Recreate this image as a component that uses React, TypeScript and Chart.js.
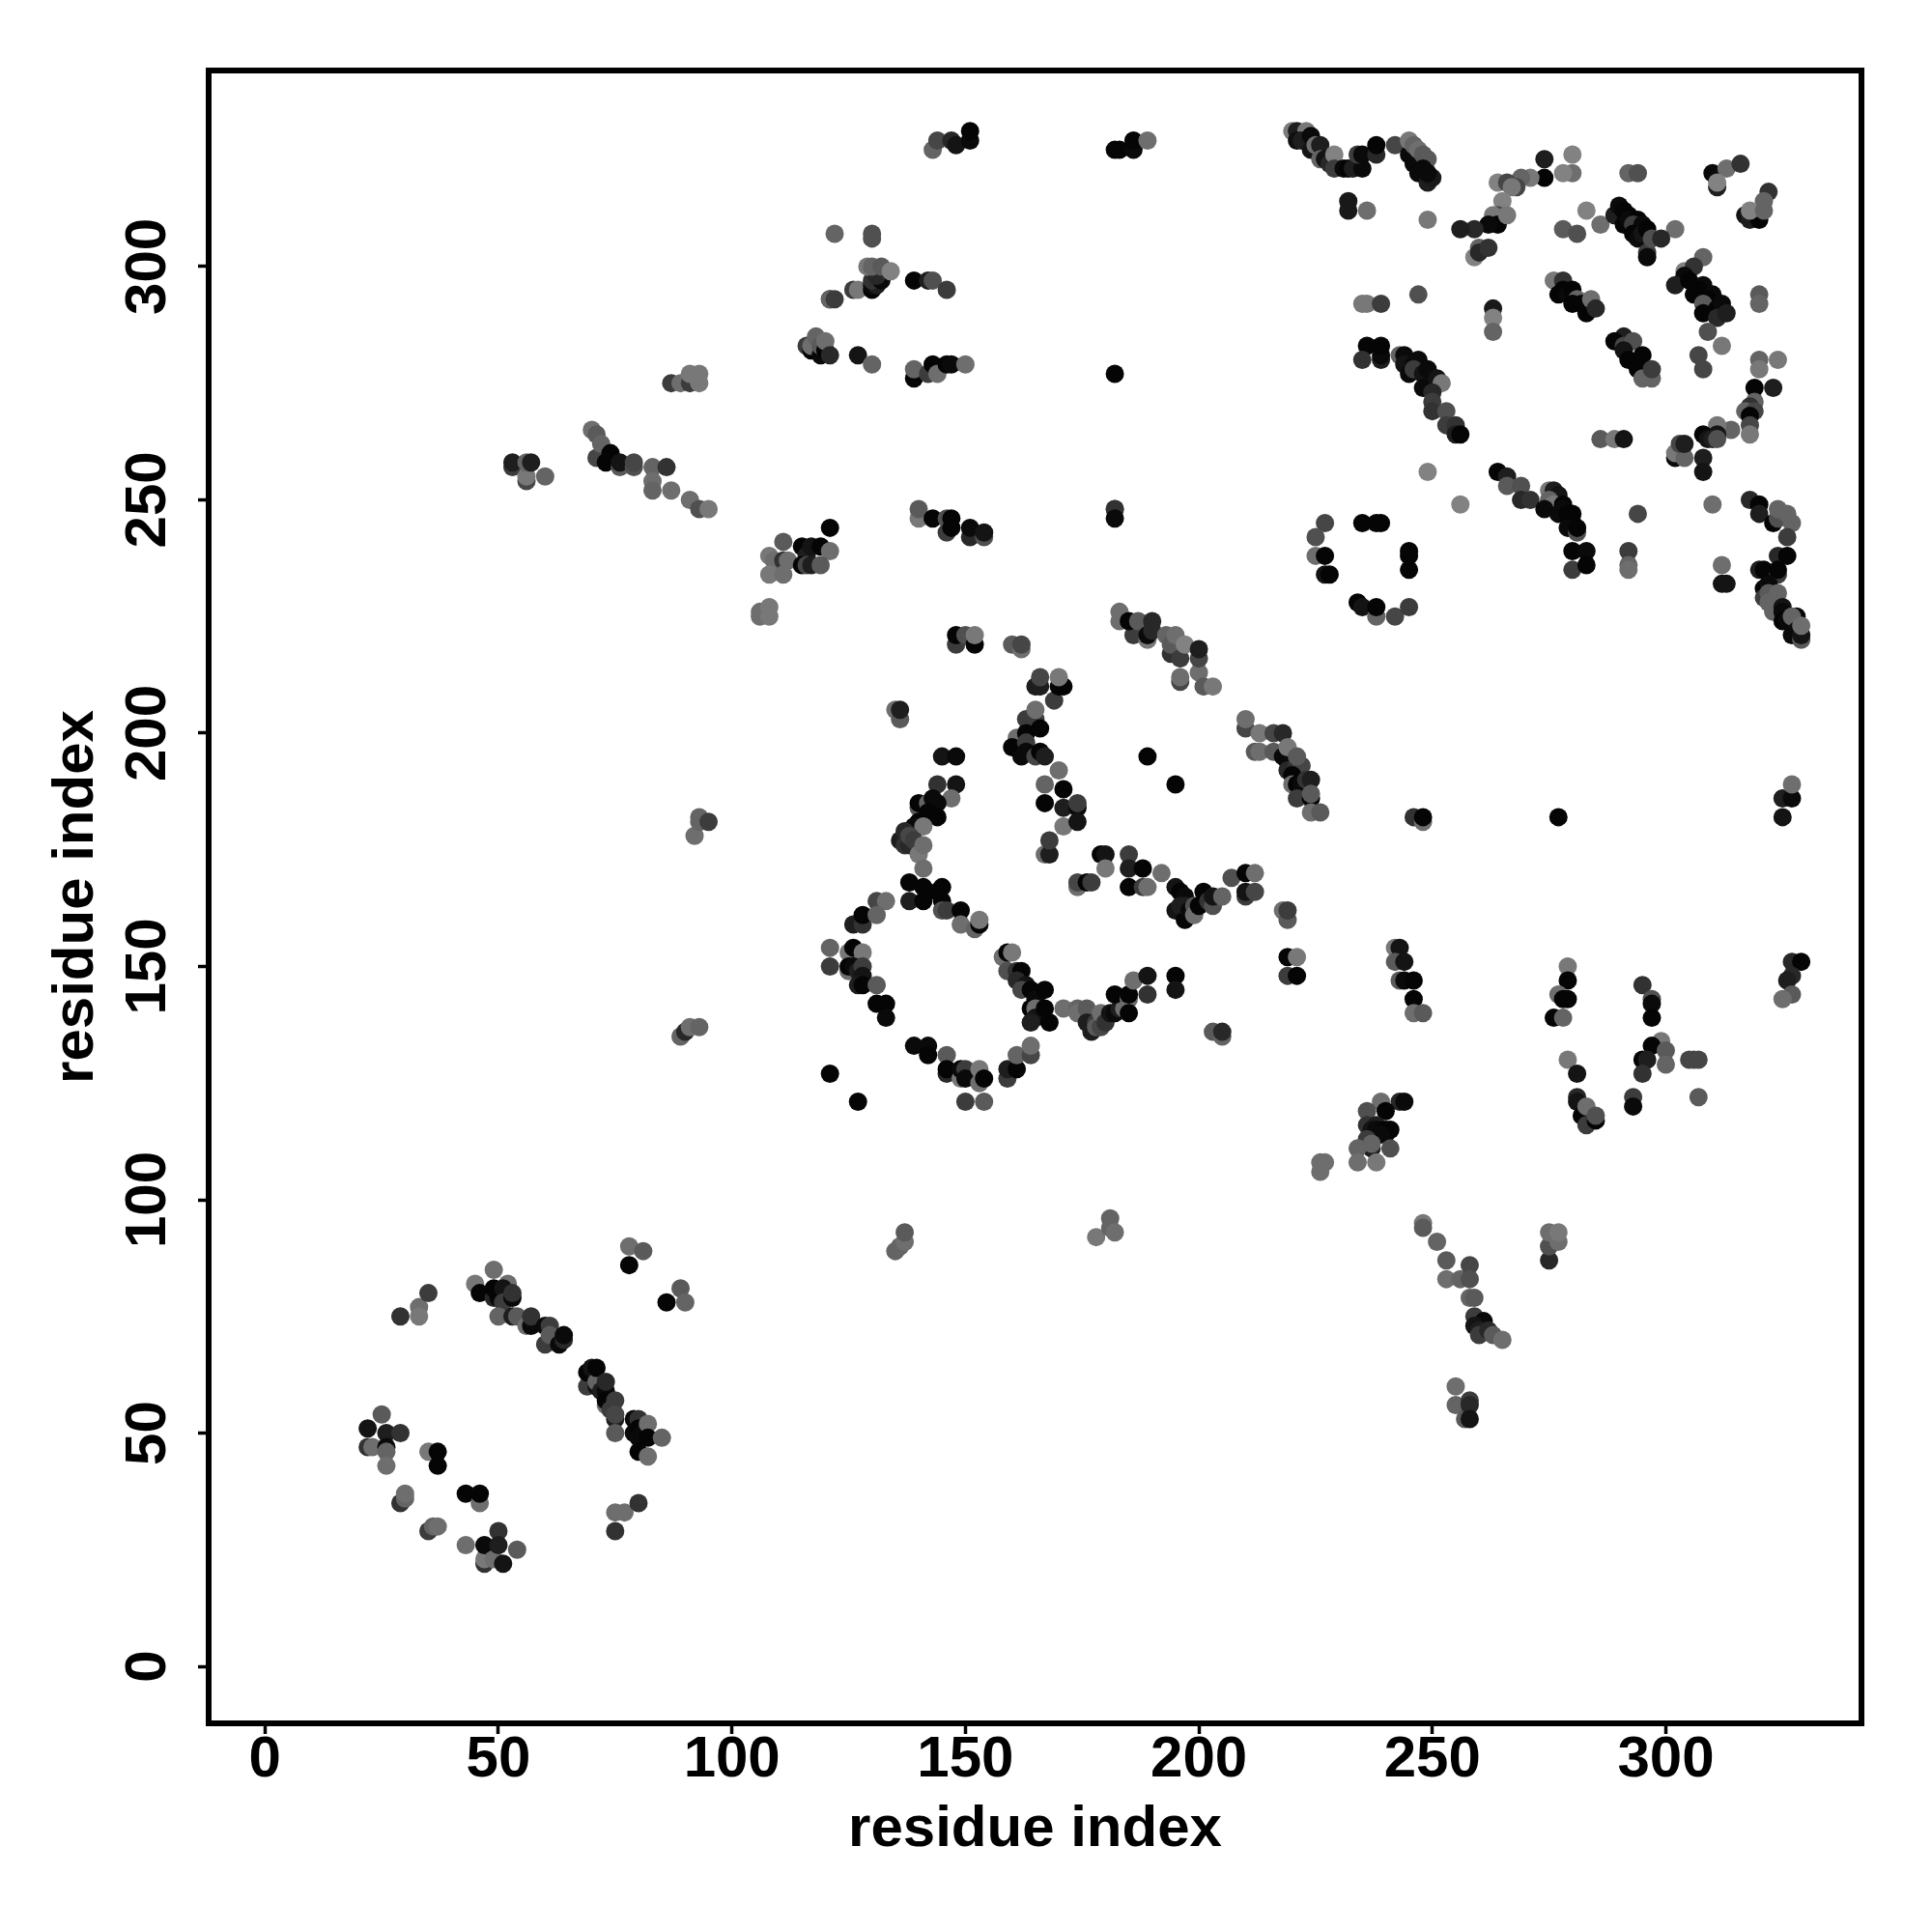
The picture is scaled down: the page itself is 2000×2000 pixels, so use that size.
import React, { useEffect, useRef } from "react";
import { Chart, registerables } from "chart.js";

Chart.register(...registerables);

type Contact = [number, number, number];

const axisTitle = "residue index";
const tickValues = [0, 50, 100, 150, 200, 250, 300];

// [residue i, residue j, grey level of the contact]
const topLeftArc: Contact[] = [
  [220,329,125],[221,329,30],[223,329,120],[221,327,15],[222,327,30],[224,328,10],[224,325,20],[225,326,110],[226,326,30],[226,323,100],[227,323,20],[228,322,40],[229,324,130],[229,321,60],[231,321,10],[232,321,5],[233,321,30],[235,321,10],[234,324,60],[235,324,10],[238,324,40],[238,326,5],[242,326,70],[245,324,10],[246,322,10],[245,327,120],[246,326,100],[247,325,110],[248,324,90],[249,323,90],[248,321,10],[247,320,10],[249,318,30],[250,319,25],[249,320,10],[232,314,25],[232,312,25],[236,312,110],[249,310,120],
];
const topMiddleArc: Contact[] = [
  [274,323,30],[274,319,5],[280,324,130],[280,320,110],[278,320,130],[271,319,120],[269,319,100],[268,317,70],[264,318,130],[266,318,70],[267,317,120],[265,314,130],[264,311,70],[263,311,120],[264,309,5],[262,309,10],[266,311,120],[259,308,40],[256,308,30],[259,302,130],[260,304,100],[260,303,40],[262,304,50],
];
const topRightBand: Contact[] = [
  [292,320,100],[294,320,80],[283,312,130],[278,308,90],[281,307,80],[286,309,110],[289,311,30],[290,313,10],[291,312,5],[292,311,5],[291,309,5],[292,310,10],[294,310,5],[293,309,60],[295,309,10],[293,307,5],[294,306,10],[295,307,20],[296,308,5],[296,303,60],[296,302,10],[297,306,80],[302,308,110],[299,306,40],
  [310,320,10],[313,321,110],[316,322,50],[311,317,30],[311,318,130],[322,316,50],[321,314,100],[317,311,20],[318,310,30],[320,310,5],[318,312,130],[321,312,100],
];
const upperRightBands: Contact[] = [
  [276,297,120],[278,297,50],[277,294,5],[278,295,5],[279,294,10],[280,295,5],[281,293,100],[280,292,5],[282,292,5],[283,290,5],[284,291,5],[284,293,110],[285,291,40],
  [291,285,30],[289,284,5],[291,283,70],[293,284,80],[291,282,20],[292,280,5],[295,281,5],[294,278,5],[295,276,100],[297,276,100],[297,278,60],
  [308,302,100],[304,299,130],[306,300,50],[304,298,10],[302,296,30],[305,297,5],[308,296,10],[307,295,5],[306,294,5],[310,294,10],[309,293,5],[308,292,90],[308,290,5],[311,291,5],[312,292,10],[311,289,40],[313,290,30],[309,286,80],[312,283,120],[320,294,90],[320,292,100],
  [263,291,25],[263,289,130],[263,286,100],[247,294,80],[235,292,120],[236,292,120],[239,292,60],
  [236,283,5],[235,280,50],[239,280,30],[239,281,10],[239,283,5],[243,281,100],[244,281,10],[244,279,20],[246,279,10],[247,280,10],[245,277,10],[246,278,60],[248,277,20],[249,278,10],[248,274,10],[250,275,10],[251,276,20],[252,275,120],[250,273,40],[250,271,60],[250,269,50],[253,269,80],[253,266,60],[255,266,50],[255,264,30],[256,264,5],
  [307,281,70],[308,278,70],[320,280,100],[320,278,120],[324,280,120],[319,274,5],[323,274,30],[319,271,100],[318,270,50],[317,269,100],[319,269,70],[318,268,5],[318,266,70],[318,264,120],[314,265,100],[311,266,120],[311,264,20],[308,264,5],[309,263,20],[310,263,30],[311,263,80],[302,259,10],[302,260,120],[304,259,100],[303,262,70],[304,262,30],[308,259,30],[308,256,20],[286,263,90],[289,263,120],[291,263,20],[249,256,130],[256,249,130],[310,249,110],
];
const rightMiddleBands: Contact[] = [
  [264,256,5],[266,255,30],[266,253,90],[269,253,80],[269,250,40],[271,250,50],[275,252,120],[276,252,30],[277,251,20],[275,250,100],[276,249,120],[274,248,10],[278,249,5],[278,248,10],[277,247,10],[279,247,5],[280,247,5],[280,245,5],[279,244,10],[281,243,80],[281,244,5],[280,239,5],[283,239,10],[280,235,60],[283,236,5],[294,247,70],[292,239,60],[292,236,100],[292,235,110],
  [318,250,40],[320,249,5],[320,247,30],[323,245,5],[324,246,80],[324,248,100],[326,247,100],[327,245,100],[326,242,60],[324,238,40],[326,238,5],[312,236,110],[312,232,20],[313,232,20],[320,235,30],[321,235,5],[324,234,60],[324,235,5],[321,231,5],[322,232,10],[321,229,60],[322,230,90],[322,228,100],[324,230,100],[323,226,100],[325,227,20],[325,226,10],[325,224,5],[326,224,10],[328,225,5],[327,225,100],[328,222,20],[327,221,10],[329,220,90],[329,221,20],[329,223,110],
  [227,245,70],[225,242,80],[235,245,5],[238,245,5],[239,245,5],[225,238,110],[227,238,5],[227,234,20],[228,234,5],[245,239,5],[245,238,5],[245,235,5],[234,228,5],[235,227,20],[238,225,100],[238,227,5],[242,225,70],[245,227,60],
];
const centerUpperBands: Contact[] = [
  [183,226,110],[183,224,110],[186,221,60],[185,224,5],[187,224,90],[189,220,120],[189,221,10],[190,222,40],[190,224,40],[193,221,100],[194,217,50],[194,219,90],[195,221,110],[196,211,70],[196,212,110],[196,216,60],[197,219,130],[200,213,110],[200,216,70],[200,218,30],[201,210,90],[203,210,120],
  [148,219,60],[148,221,5],[150,221,80],[152,219,5],[152,221,120],[160,219,90],[162,218,110],[162,219,70],
  [165,210,30],[166,210,30],[166,212,70],[169,207,60],[170,210,5],[171,210,5],[170,212,120],
  [135,205,110],[136,203,90],[136,205,30],
  [163,203,60],[165,203,60],[165,205,110],[161,199,110],[163,200,5],[166,201,5],[160,197,5],[163,198,60],[163,196,10],[162,195,10],[165,195,70],[166,196,5],[167,195,30],
  [170,192,110],[167,189,100],[171,188,5],[167,185,5],[171,184,30],[174,184,10],[174,185,60],[171,180,120],[174,181,20],[167,174,110],[168,174,30],[168,177,60],
  [145,195,20],[148,195,10],[144,189,50],[148,189,20],[147,186,110],[140,184,90],[140,185,5],[142,185,100],[143,186,10],[144,185,10],[142,183,5],[144,182,5],[140,181,5],[139,180,10],[141,180,120],[136,177,30],[137,176,50],[137,179,40],[138,176,40],[138,178,70],[139,177,60],[140,174,120],[141,176,110],[141,171,110],
  [189,195,5],[195,189,5],
  [210,201,70],[210,203,110],[213,200,120],[216,200,70],[218,200,40],[212,196,90],[213,196,110],[216,196,90],[218,195,10],[219,194,10],[219,197,120],[219,192,40],[221,193,50],[222,193,70],[221,195,90],[220,191,5],[220,189,110],[221,189,5],[222,189,10],[223,190,50],[224,190,30],[221,186,60],[224,186,5],[224,187,90],[224,183,110],[226,183,90],
];
const centerLoop: Contact[] = [
  [138,164,30],[138,168,5],[141,164,5],[141,167,5],[144,166,5],[145,164,5],[145,167,5],[145,162,80],[146,162,60],[149,162,5],[149,159,110],[152,158,100],[153,159,5],[153,160,120],
  [131,164,70],[133,164,110],[126,159,30],[128,159,50],[128,161,5],[131,161,100],
  [121,154,100],[121,150,60],[125,153,120],[126,154,5],[128,153,120],[125,149,110],[125,150,5],[126,150,10],[127,149,30],[128,150,60],[128,148,20],[127,146,30],[128,146,5],[131,146,90],[131,142,5],[133,142,5],[133,139,10],
  [139,133,10],[142,133,10],[142,131,5],[146,131,90],[121,127,5],[127,121,5],[146,127,40],[146,128,5],[149,126,120],[149,128,10],[150,128,60],[150,126,10],[153,125,110],[153,128,120],[154,126,5],[150,121,60],[154,121,90],
  [159,126,60],[159,128,30],[161,128,5],[161,131,100],[164,131,70],[164,133,110],
  [158,152,110],[159,153,5],[160,153,120],[159,149,80],[161,149,50],[162,149,5],[161,147,40],[163,146,20],[162,145,70],[164,145,5],[165,143,10],[167,145,5],[164,141,5],[165,141,110],[165,139,20],[167,141,5],[164,138,30],[168,138,5],
  [171,141,110],[174,141,100],[174,140,110],[176,141,90],[176,138,30],[177,136,30],[178,138,60],[178,137,90],[179,137,70],[179,140,110],[180,138,50],[181,140,20],[182,140,10],[183,141,30],[184,141,110],[182,144,5],[185,143,110],[185,144,5],[185,140,5],[186,147,110],[189,148,20],[189,144,50],[195,148,5],[195,145,20],[203,136,90],[205,135,100],[205,136,40],
];
const centerRightBands: Contact[] = [
  [179,174,5],[180,174,20],[185,174,60],[180,171,120],[185,171,30],[188,171,5],[192,170,110],[174,167,110],[174,168,70],[176,168,5],[177,168,60],[185,167,5],[188,167,60],[189,167,110],
  [195,167,20],[196,166,5],[197,165,10],[195,162,20],[196,163,30],[197,160,5],[197,163,30],[198,162,10],[199,163,80],[199,161,110],[200,163,5],[201,166,5],[202,164,50],[203,163,80],[203,165,20],[205,165,100],[207,169,80],[210,170,5],[212,170,110],[210,165,60],[210,166,20],[212,166,70],
  [218,162,110],[219,160,90],[219,162,60],[219,152,5],[221,152,120],[219,148,60],[221,148,5],
];
const lowerLeftLoop: Contact[] = [
  [29,75,50],[33,77,110],[33,75,120],[35,80,60],[49,85,110],[45,82,120],[46,80,5],[52,82,110],[49,79,40],[50,79,10],[50,80,5],[49,81,5],[51,81,20],[51,78,60],[53,79,10],[53,80,50],
  [50,75,100],[53,75,30],[54,75,90],[56,73,110],[57,73,10],[57,75,50],[60,73,10],[61,73,60],[60,69,60],[61,71,90],[63,69,10],[64,70,40],[64,71,10],
  [69,60,60],[69,63,5],[70,64,20],[71,60,20],[71,61,100],[71,64,5],[72,59,30],[73,59,10],[73,61,40],[73,56,110],[73,57,5],[74,55,60],[75,57,60],[75,53,30],[75,54,70],[75,50,90],
  [79,53,10],[80,53,50],[79,50,10],[80,51,5],[80,49,10],[81,50,10],[82,52,110],[82,49,5],[85,49,100],[80,46,5],[82,45,110],
  [25,54,90],[22,51,20],[26,50,30],[29,50,50],[22,47,50],[23,47,110],[26,47,10],[26,46,100],[26,43,110],[35,46,120],[37,46,5],[37,43,5],[29,35,50],[30,36,100],[30,37,110],[43,37,5],[46,35,110],[46,37,5],[35,29,60],[36,30,100],[37,30,110],
  [43,26,110],[47,22,50],[47,23,120],[47,26,10],[49,23,110],[50,29,50],[50,26,30],[54,25,90],[51,22,20],
  [78,90,110],[81,89,90],[78,86,5],[89,81,90],[90,78,100],[86,78,5],[75,33,110],[77,33,110],[80,35,50],[75,29,50],
];
const upperLeftGroups: Contact[] = [
  [122,307,100],[130,306,80],[130,307,80],[126,295,60],[127,295,120],[130,295,5],[130,296,10],[131,296,30],[130,297,50],[132,297,10],[131,298,40],[129,300,120],[130,300,100],[132,300,90],[134,299,130],[121,293,5],[121,293,100],[122,293,60],[139,297,5],[142,297,30],[143,297,80],[146,295,60],
  [116,283,60],[117,282,5],[118,283,5],[117,283,110],[118,285,100],[119,281,10],[119,283,90],[120,282,5],[120,284,110],[121,281,40],[127,281,20],[130,279,100],
  [139,276,5],[139,278,100],[142,277,60],[143,279,5],[144,277,110],[146,279,5],[147,279,10],[150,279,110],
  [87,275,60],[89,275,110],[91,275,60],[91,277,120],[93,277,120],[93,275,120],
  [53,257,60],[53,258,30],[56,254,70],[56,255,120],[56,258,100],[57,258,30],[60,255,100],
  [70,265,110],[71,264,90],[71,259,70],[72,262,100],[74,260,5],[73,258,5],[76,257,90],[76,258,20],[79,257,80],[79,258,70],[83,257,100],[86,257,50],[83,254,110],[83,252,100],[87,252,110],[91,250,110],[93,248,80],[95,248,120],
  [140,246,120],[140,248,90],[143,246,5],[146,243,60],[146,246,80],[147,244,5],[147,246,5],[151,242,40],[151,244,10],[154,242,80],[154,243,20],
  [111,241,90],[115,240,5],[116,238,30],[117,240,20],[119,240,5],[121,244,5],[121,239,110],[108,238,120],[109,237,110],[111,237,50],[112,237,110],[115,236,5],[116,236,70],[117,236,30],[119,236,90],[108,234,120],[111,234,110],
  [106,225,110],[106,226,110],[108,227,120],[108,225,120],
  [143,325,100],[144,327,70],[147,327,40],[148,326,20],[151,327,10],[151,329,5],[182,325,5],[183,325,5],[186,325,10],[186,327,5],[189,327,110],[182,277,5],[182,248,90],[182,248,50],[182,246,10],
];
const lowerRightGroups: Contact[] = [
  [242,154,120],[243,154,20],[242,151,90],[244,151,20],[243,147,90],[244,147,10],[246,147,5],[246,143,5],[246,140,110],[248,140,90],
  [279,150,120],[279,147,5],[277,144,110],[278,143,5],[279,143,5],[276,139,5],[278,139,100],[295,146,50],[297,143,80],[297,142,10],[297,139,5],
  [299,134,120],[297,133,5],[300,132,90],[300,129,100],[295,130,5],[296,130,30],[295,127,50],[305,130,70],[306,130,70],[307,130,70],
  [279,130,120],[281,127,20],[281,122,40],[281,121,20],[282,118,5],[283,120,110],[283,116,60],[285,117,5],[285,118,80],[293,122,60],[293,120,10],[307,122,90],
  [327,151,40],[329,151,5],[327,148,40],[326,147,30],[327,144,90],[325,143,110],
  [239,121,110],[243,121,40],[244,121,10],[236,119,80],[240,119,5],[236,116,50],[238,116,30],[237,115,20],[238,115,10],[240,115,5],[241,115,5],[240,114,5],[239,114,10],[236,113,60],[237,111,30],[237,112,100],[234,111,100],[241,111,80],[234,108,110],[238,108,120],[226,108,110],[227,108,110],[226,106,110],
  [246,182,50],[248,181,110],[248,182,5],[277,182,5],[325,182,20],[325,186,30],[327,186,10],[327,189,110],
];
const lowerMiddleGroups: Contact[] = [
  [92,178,110],[93,182,100],[93,181,100],[95,181,60],[89,135,100],[90,136,40],[91,137,110],[93,137,100],
  [135,89,100],[136,90,100],[137,91,110],[137,93,90],[178,92,120],[181,96,100],[181,94,100],[182,93,110],
  [248,95,120],[248,94,90],[251,91,100],[253,87,90],[253,83,110],[256,83,100],[258,86,70],[258,83,80],[258,79,100],[259,79,90],[259,75,60],[261,74,10],[259,73,20],[260,72,30],[260,71,60],[262,72,40],[263,71,90],[265,70,110],
  [255,56,100],[255,60,110],[257,53,90],[258,57,60],[258,56,40],[258,53,20],
  [275,87,40],[275,90,80],[275,93,110],[277,91,110],[277,93,120],
];

const contacts: Contact[] = [
  ...topLeftArc, ...topMiddleArc, ...topRightBand, ...upperRightBands, ...rightMiddleBands,
  ...centerUpperBands, ...centerLoop, ...centerRightBands, ...lowerLeftLoop, ...upperLeftGroups,
  ...lowerRightGroups, ...lowerMiddleGroups,
];

const framePlugin = {
  id: "frame",
  afterDraw(chart: any) {
    const { ctx, chartArea } = chart;
    ctx.save();
    ctx.strokeStyle = "#000";
    ctx.lineWidth = 6;
    ctx.lineJoin = "miter";
    ctx.strokeRect(chartArea.left, chartArea.top, chartArea.right - chartArea.left, chartArea.bottom - chartArea.top);
    ctx.restore();
  },
};

const FONT = "'Liberation Sans', Arial, sans-serif";

function axisOptions(isY: boolean, min: number, max: number) {
  return {
    type: "linear",
    min,
    max,
    afterBuildTicks(scale: any) {
      scale.ticks = tickValues.map((value) => ({ value }));
    },
    afterFit(scale: any) {
      if (isY) scale.width = 216;
      else scale.height = 216;
    },
    border: { display: false },
    grid: {
      drawOnChartArea: false,
      drawTicks: true,
      tickLength: 11,
      tickWidth: 3.5,
      tickColor: "#000",
    },
    ticks: {
      autoSkip: false,
      color: "#000",
      font: { family: FONT, size: 60, weight: "bold" },
      padding: isY ? 0 : -9,
      ...(isY ? { minRotation: 90, maxRotation: 90, crossAlign: "center" } : { maxRotation: 0 }),
    },
    title: {
      display: true,
      text: axisTitle,
      color: "#000",
      font: { family: FONT, size: 60, weight: "bold" },
      padding: isY ? { top: 43, bottom: 0 } : { top: 0, bottom: 70 },
    },
  };
}

export default function App() {
  const ref = useRef<HTMLCanvasElement>(null);
  useEffect(() => {
    if (!ref.current) return;
    const chart = new Chart(ref.current, {
      type: "scatter",
      data: {
        datasets: [
          {
            data: contacts.map(([x, y]) => ({ x, y })),
            backgroundColor: contacts.map(([, , g]) => `rgb(${g},${g},${g})`),
            borderWidth: 0,
            pointRadius: 9.5,
            pointHoverRadius: 9.5,
          },
        ],
      },
      plugins: [framePlugin],
      options: {
        animation: false,
        responsive: false,
        devicePixelRatio: 1,
        layout: { padding: { left: 0, top: 73, right: 73, bottom: 0 } },
        plugins: { legend: { display: false }, tooltip: { enabled: false } },
        scales: {
          x: axisOptions(false, -12.06, 341.9),
          y: axisOptions(true, -12.2, 342),
        },
      } as any,
    } as any);
    return () => chart.destroy();
  }, []);
  return (
    <canvas
      ref={ref}
      width={2000}
      height={2000}
      style={{ position: "absolute", left: 0, top: 0, width: 2000, height: 2000, background: "#fff" }}
    />
  );
}
